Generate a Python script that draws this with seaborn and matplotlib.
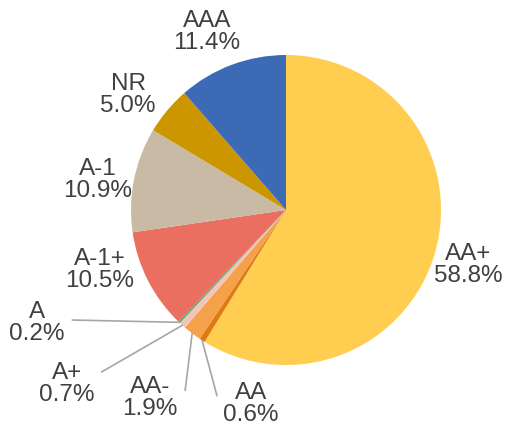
import numpy as np
import matplotlib
matplotlib.use("Agg")
import matplotlib.pyplot as plt
import seaborn as sns

# rating breakdown, clockwise from 12 o'clock
ratings = ["AA+", "AA", "AA-", "A+", "A", "A-1+", "A-1", "NR", "AAA"]
shares = [58.8, 0.6, 1.9, 0.7, 0.2, 10.5, 10.9, 5.0, 11.4]
colors = ["#FFCD4F", "#E07A10", "#F4A14A", "#F4C3BA", "#4CB06E",
          "#EA6F60", "#C9BAA5", "#CC9600", "#3D6AB5"]

sns.set_theme(style="white")
plt.rcParams["font.family"] = ["Liberation Sans", "DejaVu Sans"]

# label placement (data coords, radius = 1) and leader line settings
label_pos = {
    "AA+": (1.174, -0.35), "AA": (-0.225, -1.245), "AA-": (-0.877, -1.206),
    "A+": (-1.413, -1.116), "A": (-1.606, -0.723), "A-1+": (-1.2, -0.381),
    "A-1": (-1.213, 0.2), "NR": (-1.019, 0.748), "AAA": (-0.511, 1.158),
}
leaders = {  # relpos on the text, connection style
    "A": ((1.0, 0.55), "arc3"),
    "A+": ((1.0, 0.65), "angle,angleA=0,angleB=30"),
    "AA-": ((1.0, 0.63), "angle,angleA=0,angleB=83"),
    "AA": ((0.0, 0.6), "angle,angleA=0,angleB=105"),
}
fs = 17.5

fig = plt.figure(figsize=(5.06, 4.31), dpi=100)
ax = fig.add_axes([0, 0, 1, 1])
wedges, _ = ax.pie(shares, colors=colors, startangle=90, counterclock=False,
                   radius=1.0, wedgeprops=dict(linewidth=0))

for w, name, val in zip(wedges, ratings, shares):
    x, y = label_pos[name]
    txt = f"{name}\n{val:.1f}%"
    if name in leaders:
        rel, cs = leaders[name]
        ang = np.deg2rad((w.theta1 + w.theta2) / 2)
        ax.annotate(txt, xy=(np.cos(ang), np.sin(ang)), xytext=(x, y),
                    ha="center", va="center", fontsize=fs, color="#404040",
                    linespacing=1.0,
                    arrowprops=dict(arrowstyle="-", color="#A6A6A6", lw=1.2,
                                    connectionstyle=cs, relpos=rel,
                                    shrinkA=3, shrinkB=0))
    else:
        ax.text(x, y, txt, ha="center", va="center", fontsize=fs,
                color="#404040", linespacing=1.0)

ax.set_xlim(-286 / 155, 220 / 155)
ax.set_ylim(-220 / 155, 211 / 155)
ax.set_aspect("equal")
ax.axis("off")

fig.savefig("out.png", dpi=100)
